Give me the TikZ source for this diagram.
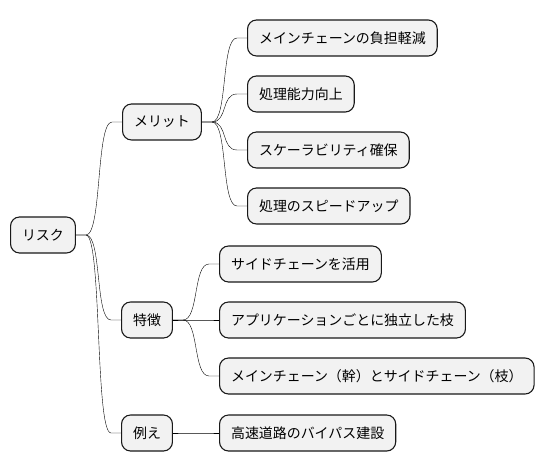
\documentclass[tikz,border=0pt]{standalone}
\usepackage{fontspec}
\setmainfont{Noto Sans CJK JP}
\usetikzlibrary{positioning,calc}

\begin{document}
\begin{tikzpicture}[x=1bp, y=-1bp]
    \tikzstyle{topic} = [rectangle, draw=black!90, fill=black!5, line width=1.1bp, rounded corners=9bp, minimum height=36bp, inner xsep=11.5bp, font=\fontsize{14}{16}\selectfont, anchor=west]
    \tikzstyle{branch} = [draw, line width=0.9bp, to path={-- ++(10,0) .. controls +(16,0) and +(-16,0) .. ([xshift=-10bp]\tikztotarget) -- (\tikztotarget)}]
    \useasboundingbox (0,0) rectangle (544,471);

    % root and first level
    \node [topic] (risk) at (10,235) {リスク};
    \node [topic] (merit) at (122,122) {メリット};
    \node [topic] (feat) at (121,320) {特徴};
    \node [topic] (example) at (121,433) {例え};

    % merits
    \node [topic] (load) at (247,38) {メインチェーンの負担軽減};
    \node [topic] (power) at (247,94) {処理能力向上};
    \node [topic] (scale) at (247,150) {スケーラビリティ確保};
    \node [topic] (speed) at (247,206) {処理のスピードアップ};

    % features
    \node [topic] (side) at (219,264) {サイドチェーンを活用};
    \node [topic] (branchapp) at (219,320) {アプリケーションごとに独立した枝};
    \node [topic] (trunk) at (219,376) {メインチェーン（幹）とサイドチェーン（枝）};

    % example
    \node [topic] (bypass) at (219,433) {高速道路のバイパス建設};

    \draw (risk.east) to[branch] (merit.west);
    \draw (risk.east) to[branch] (feat.west);
    \draw (risk.east) to[branch] (example.west);
    \foreach \n in {load,power,scale,speed}
        \draw (merit.east) to[branch] (\n.west);
    \foreach \n in {side,branchapp,trunk}
        \draw (feat.east) to[branch] (\n.west);
    \draw (example.east) to[branch] (bypass.west);
\end{tikzpicture}
\end{document}
